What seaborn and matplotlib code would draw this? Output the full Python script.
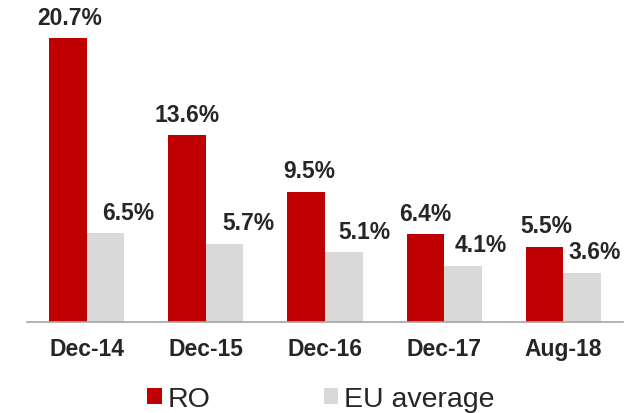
import pandas as pd
import seaborn as sns
import matplotlib.pyplot as plt
from matplotlib.ticker import FixedLocator

# data
periods = ["Dec-14", "Dec-15", "Dec-16", "Dec-17", "Aug-18"]
ro_values = [20.7, 13.6, 9.5, 6.4, 5.5]
eu_values = [6.5, 5.7, 5.1, 4.1, 3.6]
series_names = ["RO", "EU average"]
colors = {"RO": "#C00000", "EU average": "#D9D9D9"}

# horizontal nudge of the labels (points), as placed in the original
label_dx = {"RO": [1, 0, 2, 0, 1], "EU average": [16.6, 17.3, 15.1, 13, 8.6]}

df = pd.DataFrame({
    "period": periods * 2,
    "value": ro_values + eu_values,
    "series": [series_names[0]] * len(periods) + [series_names[1]] * len(periods),
})

sns.set_style("white")
plt.rcParams["font.family"] = ["Liberation Sans", "DejaVu Sans"]

fig = plt.figure(figsize=(6.29, 4.14), dpi=100)
ax = fig.add_axes([27 / 629, 91 / 414, 596 / 629, 323 / 414])

sns.barplot(data=df, x="period", y="value", hue="series", palette=colors,
            width=0.63, saturation=1, linewidth=0, ax=ax, legend=True)

ax.set_xlim(-0.5, len(periods) - 0.5)
ax.set_ylim(0, 23.54)
ax.set_xlabel("")
ax.set_ylabel("")
ax.set_yticks([])

for cont, name in zip(ax.containers, series_names):
    for bar, dx in zip(cont, label_dx[name]):
        h = bar.get_height()
        ax.annotate(f"{h:.1f}%", (bar.get_x() + bar.get_width() / 2, h),
                    xytext=(dx, 10.3), textcoords="offset points",
                    ha="center", va="baseline", fontsize=16.5, fontweight="bold")

# category boundaries as tick marks, labels in the middle
ax.xaxis.set_major_locator(FixedLocator([i - 0.5 for i in range(len(periods) + 1)]))
ax.xaxis.set_minor_locator(FixedLocator(list(range(len(periods)))))
ax.set_xticklabels([""] * (len(periods) + 1))
ax.set_xticklabels(periods, minor=True, fontsize=16.5, fontweight="bold")
ax.tick_params(axis="x", which="major", length=6, width=1.2, color="#A6A6A6", direction="out")
ax.tick_params(axis="x", which="minor", length=0, pad=11)

for s in ["top", "right", "left"]:
    ax.spines[s].set_visible(False)
ax.spines["bottom"].set_color("#A6A6A6")
ax.spines["bottom"].set_linewidth(1.2)

handles, labels = ax.get_legend_handles_labels()
ax.legend(handles, labels, ncol=2, frameon=False, fontsize=20.5,
          handlelength=0.5, handleheight=0.5, handletextpad=0.2,
          columnspacing=4.0, loc="center",
          bbox_to_anchor=(321 / 629, 1 - 400 / 414), bbox_transform=fig.transFigure)

fig.savefig("out.png", dpi=100)
